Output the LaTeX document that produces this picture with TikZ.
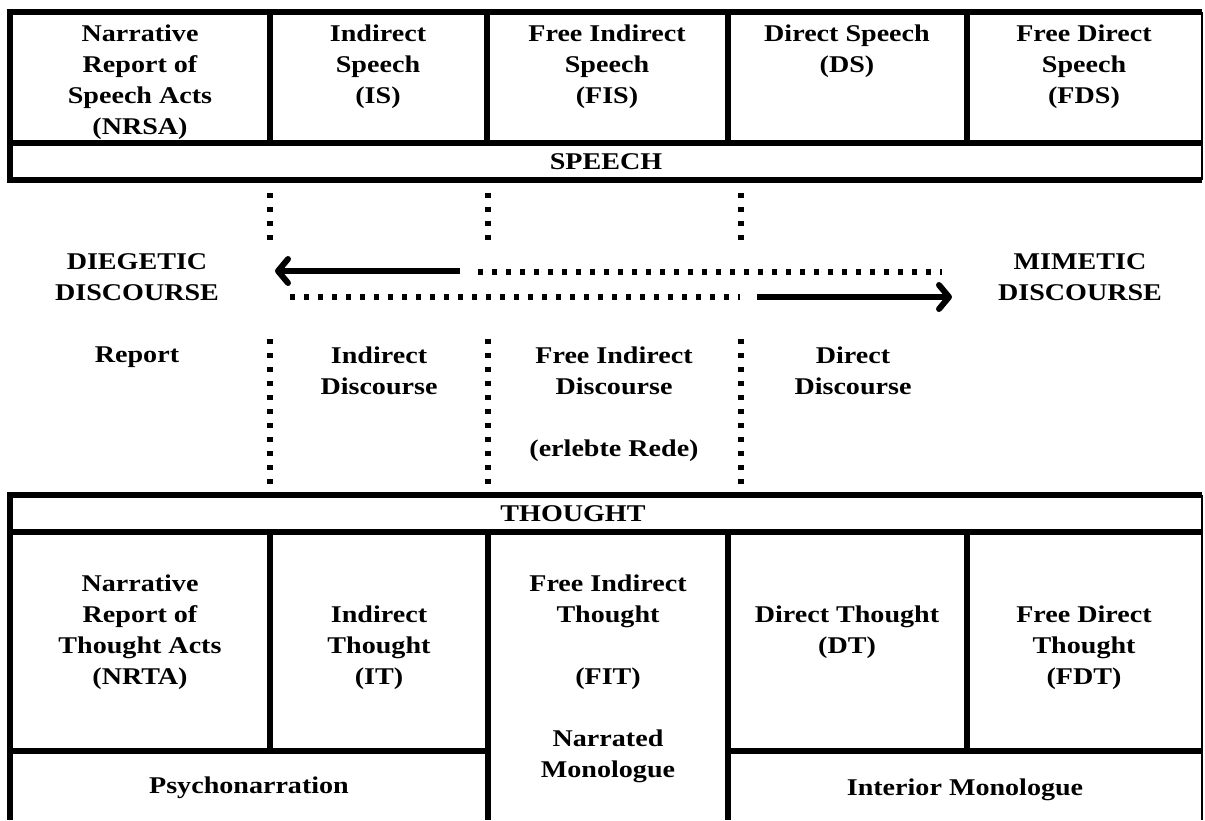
\documentclass[tikz,border=0pt]{standalone}
\usepackage{fontspec}
\setmainfont{Liberation Serif}[FakeStretch=1.17]
\usetikzlibrary{arrows.meta}

\begin{document}
\begin{tikzpicture}[
		x=0.5pt, y=-0.5pt,
		rule/.style={line width=3pt},
		thinrule/.style={line width=1pt},
		dotline/.style={line width=2.6pt, dash pattern=on 2.5pt off 4.5pt},
		bigarrow/.style={line width=3pt, -{Straight Barb[round,length=5pt,width=12pt]}},
		every node/.style={
			inner sep=0pt,
			align=center,
			font=\fontsize{12}{15.5}\selectfont\bfseries
		},
		cell/.style={anchor=north}
		]
		
		\useasboundingbox (0,0) rectangle (1205,820);
		
		\draw[rule] (1202,12) -- (10,12) -- (10,180) -- (1202,180);
		\draw[rule] (10,143) -- (1202,143);
		\foreach \x in {270,487,728,967}
			\draw[rule] (\x,12) -- (\x,143);
		\draw[thinrule] (1202,12) -- (1202,180);
		
		\draw[rule] (1202,495) -- (10,495) -- (10,820);
		\draw[rule] (10,532) -- (1202,532);
		\draw[rule] (10,751) -- (488,751);
		\draw[rule] (728,751) -- (1202,751);
		\draw[rule] (270,532) -- (270,751);
		\draw[rule] (488,532) -- (488,820);
		\draw[rule] (728,532) -- (728,820);
		\draw[rule] (967,532) -- (967,751);
		\draw[thinrule] (1202,495) -- (1202,820);
		
		\foreach \x in {270,488,741} {
			\draw[dotline] (\x,193) -- (\x,243);
			\draw[dotline] (\x,339) -- (\x,495);
		}
		
		\node[cell] (nrsa) at (140,24) {Narrative\\Report of\\Speech Acts\\(NRSA)};
		\node[cell] (is) at (378,24) {Indirect\\Speech\\(IS)};
		\node[cell] (fis) at (607,24) {Free Indirect\\Speech\\(FIS)};
		\node[cell] (ds) at (847,24) {Direct Speech\\(DS)};
		\node[cell] (fds) at (1084,24) {Free Direct\\Speech\\(FDS)};
		\node (speech) at (606,162) {SPEECH};
		
		\node[cell] (diegetic) at (137,253) {DIEGETIC\\DISCOURSE};
		\node[cell] (mimetic) at (1080,253) {MIMETIC\\DISCOURSE};
		\node[cell] (report) at (137,346) {Report};
		\node[cell] (indirect) at (379,346) {Indirect\\Discourse};
		\node[cell] (freeind) at (614,346) {Free Indirect\\Discourse\\[15.5pt](erlebte Rede)};
		\node[cell] (direct) at (853,346) {Direct\\Discourse};
		
		\coordinate (dieg start) at (460,271);
		\coordinate (dieg end) at (275,271);
		\coordinate (mim start) at (757,297);
		\coordinate (mim end) at (952,297);
		\draw[bigarrow] (dieg start) -- (dieg end);
		\draw[bigarrow] (mim start) -- (mim end);
		\draw[dotline] (478,272) -- (942,272);
		\draw[dotline] (290,297) -- (740,297);
		
		\node (thought) at (573,514) {THOUGHT};
		\node[cell] (nrta) at (140,574) {Narrative\\Report of\\Thought Acts\\(NRTA)};
		\node[cell] (it) at (379,605) {Indirect\\Thought\\(IT)};
		\node[cell] (fit) at (608,574) {Free Indirect\\Thought\\[15.5pt](FIT)\\[15.5pt]Narrated\\Monologue};
		\node[cell] (dt) at (847,605) {Direct Thought\\(DT)};
		\node[cell] (fdt) at (1084,605) {Free Direct\\Thought\\(FDT)};
		\node (psycho) at (249,788) {Psychonarration};
		\node (interior) at (965,790) {Interior Monologue};
		
	\end{tikzpicture}
\end{document}
